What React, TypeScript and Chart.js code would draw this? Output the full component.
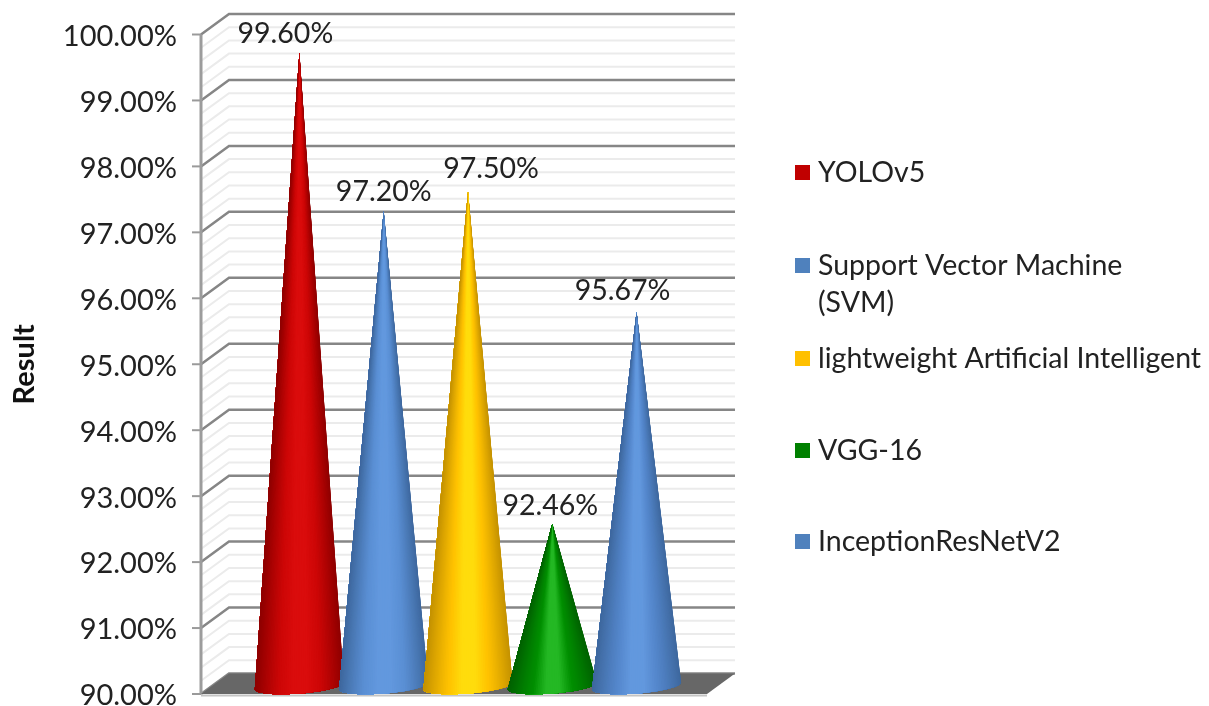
import React, { useEffect, useRef } from "react";
import { Chart, registerables } from "chart.js";

Chart.register(...registerables);

const seriesNames = ["YOLOv5", "Support Vector Machine (SVM)", "lightweight Artificial Intelligent", "VGG-16", "InceptionResNetV2"];
const seriesValues = [99.6, 97.2, 97.5, 92.46, 95.67];
const legendLines = [["YOLOv5"], ["Support Vector Machine", "(SVM)"], ["lightweight Artificial Intelligent"], ["VGG-16"], ["InceptionResNetV2"]];
const legendColors = ["#c00000", "#4f81bd", "#ffc000", "#008000", "#4f81bd"];
const legendRowY = [173, 266, 359, 451, 542];
const edgeColors = [[142, 0, 0], [62, 104, 158], [196, 146, 0], [0, 98, 0], [62, 104, 158]];
const midColors = [[205, 6, 6], [90, 143, 212], [255, 194, 0], [0, 142, 0], [84, 135, 204]];
const lightColors = [[218, 12, 12], [98, 152, 222], [255, 220, 12], [36, 184, 36], [98, 152, 222]];
const labelDx = [-14, 0, 23, -2, -14];
const labelGap = [19, 19, 23, 18, 21];

const FONT = "Lato, 'Open Sans', sans-serif";
const AXIS_MIN = 90;
const AXIS_MAX = 100;
const MINOR = 0.2;
const WALL_DX = 28;
const WALL_DY = -20.5;
const CONE_DX = 14;
const CONE_DY = -8;

const mix = (a: number[], b: number[], t: number) =>
  `rgb(${a.map((v, i) => Math.round(v + (b[i] - v) * t)).join(",")})`;

function shade(i: number, u: number) {
  const d = Math.abs(u);
  if (d < 0.15) return mix(lightColors[i], lightColors[i], 0);
  if (d < 0.45) return mix(lightColors[i], midColors[i], (d - 0.15) / 0.3);
  return mix(midColors[i], edgeColors[i], Math.pow((d - 0.45) / 0.55, 1.1));
}

const cone3d = {
  id: "cone3d",
  beforeDatasetsDraw(chart: any) {
    const { ctx, chartArea: a, scales } = chart;
    const y = scales.y;
    ctx.save();
    const wallRight = a.right + WALL_DX;
    ctx.strokeStyle = "#ebebeb";
    ctx.lineWidth = 2;
    const n = Math.round((AXIS_MAX - AXIS_MIN) / MINOR);
    for (let k = 0; k <= n; k++) {
      if (k % 5 === 0) continue;
      const p = y.getPixelForValue(AXIS_MIN + k * MINOR);
      ctx.beginPath();
      ctx.moveTo(a.left, p);
      ctx.lineTo(a.left + WALL_DX, p + WALL_DY);
      ctx.lineTo(wallRight, p + WALL_DY);
      ctx.stroke();
    }
    for (let v = AXIS_MIN; v <= AXIS_MAX; v++) {
      const p = y.getPixelForValue(v);
      ctx.strokeStyle = "#868686";
      ctx.lineWidth = 2.5;
      ctx.beginPath();
      ctx.moveTo(a.left, p);
      ctx.lineTo(a.left + WALL_DX, p + WALL_DY);
      ctx.lineTo(wallRight, p + WALL_DY);
      ctx.stroke();
      ctx.strokeStyle = "#9a9a9a";
      ctx.lineWidth = 2;
      ctx.beginPath();
      ctx.moveTo(a.left - 9, p);
      ctx.lineTo(a.left, p);
      ctx.stroke();
    }
    ctx.strokeStyle = "#9c9c9c";
    ctx.lineWidth = 3;
    ctx.beginPath();
    ctx.moveTo(a.left, a.top);
    ctx.lineTo(a.left, a.bottom);
    ctx.stroke();
    const b = a.bottom;
    ctx.fillStyle = "#676767";
    ctx.beginPath();
    ctx.moveTo(a.left, b);
    ctx.lineTo(a.left + WALL_DX, b + WALL_DY);
    ctx.lineTo(wallRight, b + WALL_DY);
    ctx.lineTo(a.right, b);
    ctx.closePath();
    ctx.fill();
    ctx.strokeStyle = "#c4c4c4";
    ctx.lineWidth = 2;
    ctx.beginPath();
    ctx.moveTo(a.left, b + 1.5);
    ctx.lineTo(a.right, b + 1.5);
    ctx.stroke();
    ctx.restore();
  },
  afterDatasetsDraw(chart: any) {
    const { ctx, scales } = chart;
    ctx.save();
    const tilt = -0.08;
    chart.data.datasets.forEach((_: any, i: number) => {
      const bar = chart.getDatasetMeta(i).data[0];
      const cx = bar.x + CONE_DX;
      const tipY = bar.y + CONE_DY;
      const baseY = scales.y.getPixelForValue(AXIS_MIN) + CONE_DY;
      const hw = bar.width * 0.53;
      const hh = 7.5;
      const steps = 70;
      const pt = (t: number) => {
        const ex = hw * Math.cos(t);
        const ey = hh * Math.sin(t);
        return [cx + ex * Math.cos(tilt) - ey * Math.sin(tilt), baseY + ex * Math.sin(tilt) + ey * Math.cos(tilt)];
      };
      for (let s = 0; s < steps; s++) {
        const t0 = (Math.PI * s) / steps;
        const t1 = (Math.PI * (s + 1)) / steps;
        ctx.fillStyle = shade(i, Math.cos((t0 + t1) / 2));
        ctx.beginPath();
        ctx.moveTo(cx, tipY);
        for (let r = s; r <= steps; r++) {
          const p = pt((Math.PI * r) / steps);
          ctx.lineTo(p[0], p[1]);
        }
        ctx.closePath();
        ctx.fill();
      }
    });
    ctx.font = `28.5px ${FONT}`;
    ctx.fillStyle = "#222";
    ctx.textAlign = "center";
    ctx.textBaseline = "middle";
    chart.data.datasets.forEach((ds: any, i: number) => {
      const bar = chart.getDatasetMeta(i).data[0];
      ctx.fillText(`${ds.data[0].toFixed(2)}%`, bar.x + CONE_DX + labelDx[i], bar.y + CONE_DY - labelGap[i]);
    });
    ctx.textAlign = "left";
    legendLines.forEach((lines, i) => {
      ctx.fillStyle = legendColors[i];
      ctx.fillRect(795, legendRowY[i] - 8, 15, 15);
      ctx.fillStyle = "#222";
      lines.forEach((line, j) => ctx.fillText(line, 818, legendRowY[i] + j * 37));
    });
    ctx.restore();
  },
};

export default function App() {
  const ref = useRef<HTMLCanvasElement>(null);
  useEffect(() => {
    document.body.style.margin = "0";
    const chart = new Chart(ref.current!, {
      type: "bar",
      data: {
        labels: ["Result"],
        datasets: seriesNames.map((label, i) => ({
          label,
          data: [seriesValues[i]],
          backgroundColor: "transparent",
          borderWidth: 0,
          barPercentage: 1,
          categoryPercentage: 0.833,
        })),
      },
      options: {
        responsive: false,
        animation: false,
        layout: { padding: { top: 34.5, bottom: 12, left: 0, right: 502 } },
        plugins: { legend: { display: false }, tooltip: { enabled: false } },
        scales: {
          x: { display: false },
          y: {
            min: AXIS_MIN,
            max: AXIS_MAX,
            afterFit: (s: any) => { s.width = 201; s.paddingTop = 0; s.paddingBottom = 0; },
            grid: { display: false },
            border: { display: false },
            ticks: {
              stepSize: 1,
              padding: 16,
              labelOffset: 2,
              color: "#222",
              font: { family: FONT, size: 29 },
              callback: (v: any) => `${Number(v).toFixed(2)}%`,
            },
            title: {
              display: true,
              text: "Result",
              color: "#111",
              font: { family: FONT, size: 29, weight: "bold" },
              padding: { top: 7, bottom: 0 },
            },
          },
        },
      },
      plugins: [cone3d],
    } as any);
    return () => chart.destroy();
  }, []);
  return <canvas ref={ref} width={1209} height={706} style={{ display: "block", background: "#fff", filter: "blur(0.5px)" }} />;
}
